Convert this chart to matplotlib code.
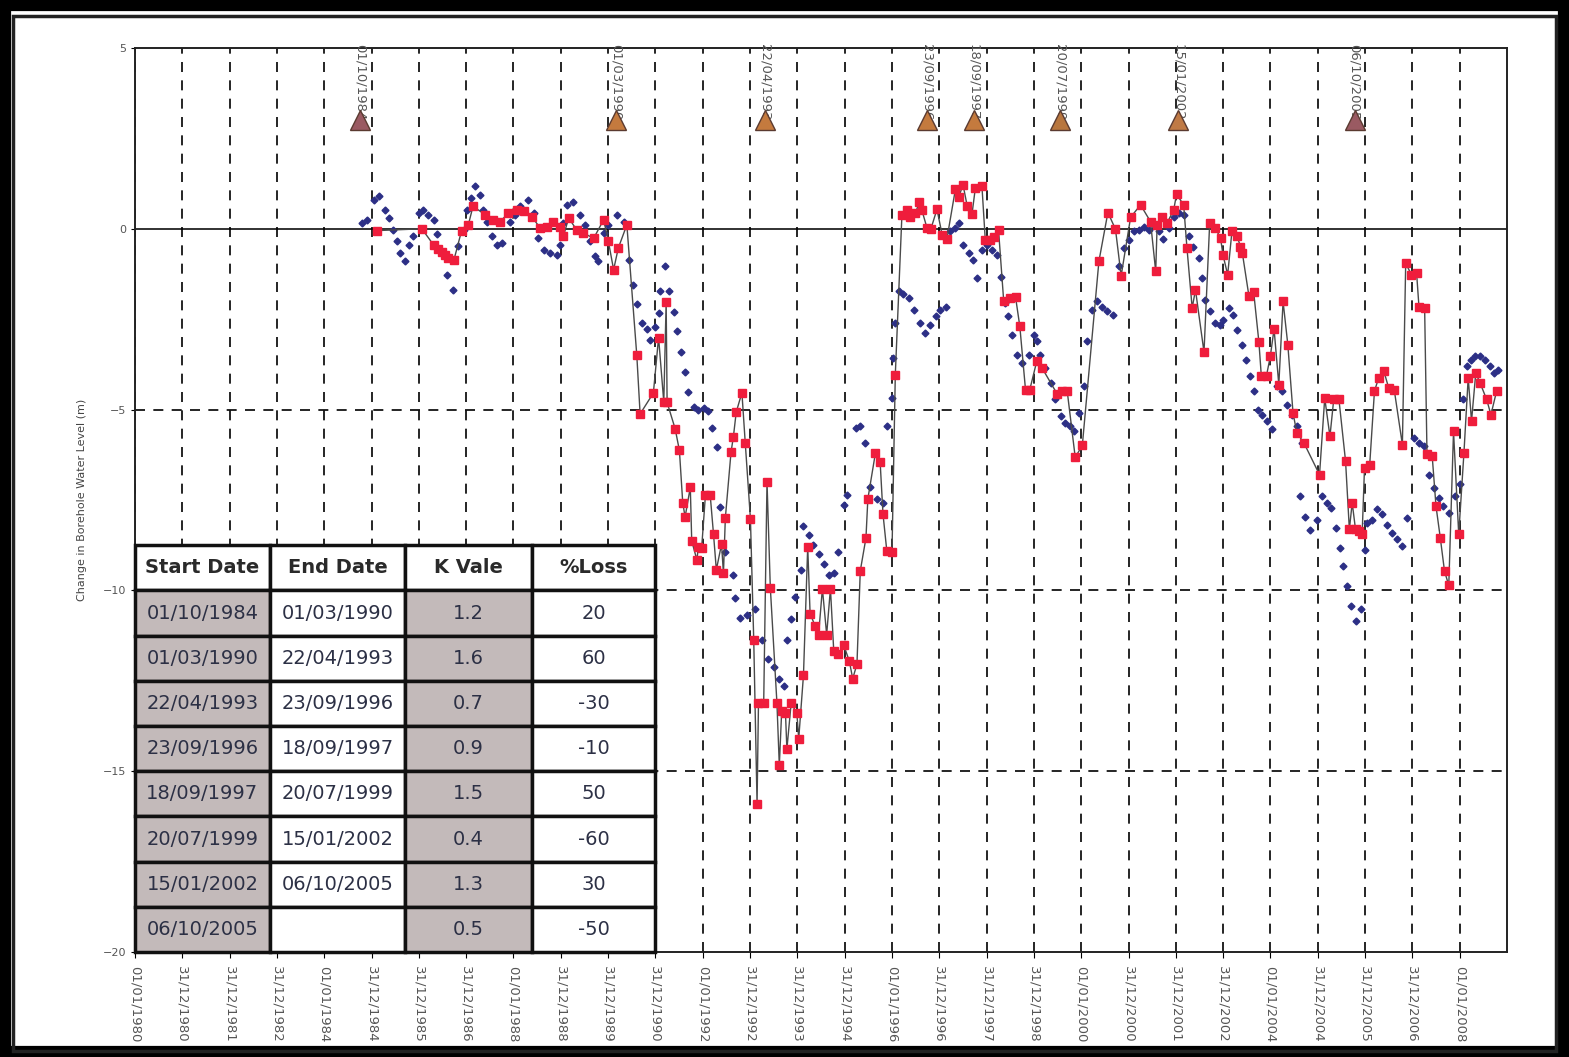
import numpy as np
import matplotlib
matplotlib.use('Agg')
import matplotlib.pyplot as plt
from matplotlib.patches import Rectangle
from datetime import date

# x tick labels (Excel date axis, one tick every 365 days from 01/01/1980)
tick_labels = ['01/01/1980', '31/12/1980', '31/12/1981', '31/12/1982', '01/01/1984',
               '31/12/1984', '31/12/1985', '31/12/1986', '01/01/1988', '31/12/1988',
               '31/12/1989', '31/12/1990', '01/01/1992', '31/12/1992', '31/12/1993',
               '31/12/1994', '01/01/1996', '31/12/1996', '31/12/1997', '31/12/1998',
               '01/01/2000', '31/12/2000', '31/12/2001', '31/12/2002', '01/01/2004',
               '31/12/2004', '31/12/2005', '31/12/2006', '01/01/2008']

# table contents
start_dates = ['01/10/1984', '01/03/1990', '22/04/1993', '23/09/1996',
               '18/09/1997', '20/07/1999', '15/01/2002', '06/10/2005']
end_dates = ['01/03/1990', '22/04/1993', '23/09/1996', '18/09/1997',
             '20/07/1999', '15/01/2002', '06/10/2005', '']
k_values = ['1.2', '1.6', '0.7', '0.9', '1.5', '0.4', '1.3', '0.5']
pct_loss = ['20', '60', '-30', '-10', '50', '-60', '30', '-50']
marker_colors = ['#9a5a62', '#c47a3e', '#c47a3e', '#c47a3e',
                 '#c47a3e', '#b8763e', '#c07a45', '#9a5a62']

# observed water level change (red squares, connected)
obs_year = [1985.11, 1986.06, 1986.31, 1986.40, 1986.48, 1986.55, 1986.62, 1986.74,
            1986.90, 1987.04, 1987.14, 1987.40, 1987.57, 1987.71, 1987.89, 1988.07,
            1988.21, 1988.38, 1988.56, 1988.70, 1988.84, 1988.98, 1989.05, 1989.16,
            1989.33, 1989.47, 1989.69, 1989.90, 1990.00, 1990.11, 1990.21, 1990.39,
            1990.60, 1990.67, 1990.95, 1991.06, 1991.17, 1991.22, 1991.24, 1991.41,
            1991.50, 1991.57, 1991.62, 1991.73, 1991.76, 1991.87, 1991.90, 1991.97,
            1992.05, 1992.15, 1992.22, 1992.28, 1992.39, 1992.43, 1992.47, 1992.59,
            1992.64, 1992.70, 1992.82, 1992.89, 1993.00, 1993.07, 1993.14, 1993.17,
            1993.28, 1993.35, 1993.42, 1993.56, 1993.61, 1993.66, 1993.74, 1993.77,
            1993.86, 1993.98, 1994.02, 1994.12, 1994.21, 1994.26, 1994.37, 1994.44,
            1994.52, 1994.61, 1994.69, 1994.76, 1994.86, 1994.97, 1995.09, 1995.16,
            1995.25, 1995.32, 1995.44, 1995.48, 1995.64, 1995.74, 1995.80, 1995.88,
            1995.99, 1996.06, 1996.20, 1996.31, 1996.38, 1996.48, 1996.57, 1996.62,
            1996.73, 1996.81, 1996.94, 1997.05, 1997.15, 1997.33, 1997.40, 1997.49,
            1997.58, 1997.68, 1997.75, 1997.89, 1997.96, 1998.07, 1998.15, 1998.24,
            1998.35, 1998.49, 1998.60, 1998.69, 1998.81, 1998.90, 1999.05, 1999.16,
            1999.48, 1999.58, 1999.69, 1999.86, 2000.01, 2000.36, 2000.55, 2000.71,
            2000.83, 2001.03, 2001.24, 2001.45, 2001.56, 2001.59, 2001.70, 2001.80,
            2001.94, 2002.00, 2002.15, 2002.22, 2002.33, 2002.40, 2002.58, 2002.70,
            2002.82, 2002.93, 2002.98, 2003.08, 2003.17, 2003.28, 2003.35, 2003.39,
            2003.53, 2003.63, 2003.74, 2003.79, 2003.90, 2003.98, 2004.06, 2004.16,
            2004.25, 2004.35, 2004.46, 2004.54, 2004.69, 2005.02, 2005.13, 2005.24,
            2005.32, 2005.43, 2005.57, 2005.65, 2005.71, 2005.78, 2005.85, 2005.92,
            2005.97, 2006.08, 2006.18, 2006.27, 2006.38, 2006.48, 2006.60, 2006.77,
            2006.84, 2006.96, 2007.07, 2007.12, 2007.24, 2007.29, 2007.40, 2007.48,
            2007.57, 2007.66, 2007.75, 2007.85, 2007.96, 2008.07, 2008.16, 2008.23,
            2008.32, 2008.41, 2008.55, 2008.64, 2008.76]
obs_level = [-0.05, 0.00, -0.45, -0.55, -0.65, -0.72, -0.80, -0.85,
             -0.05, 0.10, 0.62, 0.39, 0.25, 0.20, 0.43, 0.52,
             0.48, 0.34, 0.02, 0.06, 0.20, 0.06, -0.21, 0.30,
             -0.03, -0.12, -0.26, 0.25, -0.35, -1.13, -0.53, 0.11,
             -3.50, -5.12, -4.54, -3.01, -4.79, -2.02, -4.80, -5.53,
             -6.13, -7.57, -7.97, -7.15, -8.63, -9.16, -8.79, -8.82,
             -7.36, -7.36, -8.44, -9.43, -8.72, -9.53, -8.00, -6.18,
             -5.75, -5.07, -4.53, -5.91, -8.02, -11.38, -15.90, -13.12,
             -13.12, -6.99, -9.92, -13.12, -14.84, -13.34, -13.39, -14.39,
             -13.12, -13.39, -14.10, -12.35, -8.79, -10.64, -10.99, -11.22,
             -9.95, -11.22, -9.95, -11.68, -11.75, -11.51, -11.96, -12.44,
             -12.04, -9.46, -8.55, -7.47, -6.20, -6.46, -7.89, -8.90,
             -8.95, -4.03, 0.39, 0.52, 0.34, 0.43, 0.73, 0.52,
             0.02, -0.01, 0.54, -0.17, -0.28, 1.10, 0.88, 1.22,
             0.62, 0.41, 1.12, 1.17, -0.30, -0.30, -0.23, -0.03,
             -2.01, -1.92, -1.89, -2.70, -4.45, -4.45, -3.65, -3.85,
             -4.57, -4.49, -4.48, -6.32, -5.99, -0.90, 0.45, -0.01,
             -1.30, 0.32, 0.66, 0.20, -1.18, 0.11, 0.34, 0.16,
             0.52, 0.96, 0.66, -0.53, -2.19, -1.69, -3.41, 0.16,
             0.02, -0.26, -0.72, -1.27, -0.07, -0.21, -0.49, -0.67,
             -1.87, -1.76, -3.14, -4.06, -4.06, -3.53, -2.77, -4.31,
             -2.01, -3.20, -5.09, -5.64, -5.92, -6.80, -4.68, -5.74,
             -4.72, -4.72, -6.43, -8.31, -7.58, -8.31, -8.36, -8.45,
             -6.61, -6.52, -4.49, -4.12, -3.94, -4.40, -4.47, -5.97,
             -0.95, -1.27, -1.22, -2.15, -2.19, -6.24, -6.29, -7.67,
             -8.54, -9.47, -9.86, -5.60, -8.45, -6.20, -4.12, -5.32,
             -3.99, -4.26, -4.72, -5.14, -4.49]

# modelled water level change (blue diamonds)
sim_year = [1984.79, 1984.90, 1985.04, 1985.16, 1985.28, 1985.37, 1985.46, 1985.53,
            1985.60, 1985.71, 1985.79, 1985.88, 1985.99, 1986.09, 1986.20, 1986.31,
            1986.37, 1986.51, 1986.60, 1986.71, 1986.83, 1986.94, 1987.01, 1987.09,
            1987.18, 1987.29, 1987.36, 1987.43, 1987.54, 1987.64, 1987.75, 1987.92,
            1988.03, 1988.14, 1988.31, 1988.42, 1988.52, 1988.63, 1988.77, 1988.91,
            1988.98, 1989.05, 1989.13, 1989.26, 1989.40, 1989.51, 1989.62, 1989.72,
            1989.79, 1989.90, 1990.00, 1990.18, 1990.32, 1990.43, 1990.53, 1990.60,
            1990.71, 1990.81, 1990.88, 1990.99, 1991.06, 1991.09, 1991.20, 1991.27,
            1991.38, 1991.45, 1991.53, 1991.62, 1991.69, 1991.80, 1991.90, 1992.01,
            1992.10, 1992.18, 1992.29, 1992.36, 1992.47, 1992.63, 1992.68, 1992.78,
            1992.92, 1993.10, 1993.24, 1993.38, 1993.49, 1993.60, 1993.70, 1993.77,
            1993.86, 1993.95, 1994.06, 1994.12, 1994.23, 1994.33, 1994.44, 1994.55,
            1994.65, 1994.76, 1994.86, 1994.97, 1995.04, 1995.22, 1995.32, 1995.43,
            1995.53, 1995.67, 1995.81, 1995.88, 1995.99, 1996.02, 1996.06, 1996.13,
            1996.23, 1996.34, 1996.45, 1996.59, 1996.69, 1996.80, 1996.91, 1997.01,
            1997.14, 1997.22, 1997.33, 1997.40, 1997.50, 1997.61, 1997.71, 1997.78,
            1997.89, 1997.99, 1998.10, 1998.21, 1998.29, 1998.38, 1998.45, 1998.52,
            1998.62, 1998.74, 1998.88, 1998.98, 1999.05, 1999.12, 1999.23, 1999.34,
            1999.44, 1999.55, 1999.65, 1999.76, 1999.84, 1999.93, 2000.04, 2000.11,
            2000.22, 2000.32, 2000.43, 2000.53, 2000.66, 2000.78, 2000.89, 2000.99,
            2001.10, 2001.20, 2001.31, 2001.41, 2001.52, 2001.63, 2001.72, 2001.84,
            2001.94, 2002.05, 2002.15, 2002.26, 2002.34, 2002.47, 2002.54, 2002.61,
            2002.71, 2002.82, 2002.92, 2002.99, 2003.10, 2003.20, 2003.27, 2003.39,
            2003.46, 2003.55, 2003.63, 2003.72, 2003.81, 2003.91, 2004.02, 2004.12,
            2004.22, 2004.33, 2004.43, 2004.55, 2004.60, 2004.65, 2004.72, 2004.82,
            2004.97, 2005.08, 2005.17, 2005.27, 2005.36, 2005.45, 2005.52, 2005.61,
            2005.68, 2005.78, 2005.89, 2005.99, 2006.03, 2006.13, 2006.24, 2006.34,
            2006.45, 2006.56, 2006.66, 2006.77, 2006.87, 2007.01, 2007.12, 2007.22,
            2007.33, 2007.43, 2007.54, 2007.63, 2007.75, 2007.89, 2007.99, 2008.05,
            2008.14, 2008.21, 2008.31, 2008.41, 2008.52, 2008.62, 2008.71, 2008.80]
sim_level = [0.16, 0.23, 0.80, 0.91, 0.52, 0.30, -0.03, -0.35,
             -0.67, -0.90, -0.44, -0.21, 0.43, 0.52, 0.39, 0.25,
             -0.14, -0.67, -1.27, -1.69, -0.47, -0.03, 0.52, 0.85,
             1.19, 0.94, 0.52, 0.20, -0.21, -0.44, -0.40, 0.20,
             0.39, 0.62, 0.80, 0.43, -0.26, -0.58, -0.67, -0.72,
             -0.44, 0.16, 0.66, 0.73, 0.39, 0.11, -0.35, -0.76,
             -0.90, -0.12, 0.11, 0.39, 0.20, -0.86, -1.55, -2.08,
             -2.60, -2.76, -3.08, -2.71, -2.34, -1.71, -1.02, -1.71,
             -2.29, -2.84, -3.40, -3.95, -4.51, -4.93, -5.02, -4.96,
             -5.04, -5.51, -6.04, -7.68, -8.95, -9.56, -10.22, -10.75,
             -10.69, -10.51, -11.38, -11.91, -12.12, -12.44, -12.65, -11.38,
             -10.80, -10.17, -9.43, -8.21, -8.47, -8.74, -9.00, -9.27,
             -9.58, -9.53, -8.95, -7.63, -7.36, -5.51, -5.45, -5.93,
             -7.15, -7.47, -7.57, -5.45, -4.67, -3.56, -2.60, -1.73,
             -1.79, -1.91, -2.24, -2.61, -2.88, -2.65, -2.42, -2.24,
             -2.15, -0.07, 0.02, 0.16, -0.44, -0.67, -0.86, -1.36,
             -0.58, -0.44, -0.58, -0.72, -1.32, -2.05, -2.42, -2.93,
             -3.48, -3.71, -3.48, -2.93, -3.11, -3.48, -3.85, -4.26,
             -4.72, -5.19, -5.37, -5.46, -5.60, -5.09, -4.36, -3.11,
             -2.24, -2.01, -2.15, -2.28, -2.38, -1.04, -0.53, -0.30,
             -0.07, -0.03, 0.06, -0.03, 0.11, -0.07, -0.28, 0.02,
             0.34, 0.43, 0.39, -0.21, -0.49, -0.81, -1.36, -1.96,
             -2.28, -2.60, -2.65, -2.51, -2.19, -2.38, -2.79, -3.20,
             -3.62, -4.08, -4.49, -5.00, -5.14, -5.32, -5.55, -4.36,
             -4.49, -4.86, -5.14, -5.46, -7.39, -5.92, -7.96, -8.33,
             -8.04, -7.39, -7.58, -7.72, -8.27, -8.82, -9.33, -9.88,
             -10.43, -10.85, -10.52, -8.87, -8.13, -8.04, -7.76, -7.90,
             -8.18, -8.41, -8.59, -8.78, -7.99, -5.78, -5.92, -6.01,
             -6.80, -7.16, -7.44, -7.67, -7.85, -7.39, -7.07, -4.72,
             -3.80, -3.62, -3.51, -3.53, -3.62, -3.80, -3.99, -3.90]


def to_year(s):
    d, m, y = [int(v) for v in s.split('/')]
    day0 = date(y, 1, 1)
    return y + (date(y, m, d) - day0).days / 365.25


tick_pos = [1980 + i * 365 / 365.25 for i in range(len(tick_labels))]
x_end = 1980 + len(tick_labels) * 365 / 365.25

fig = plt.figure(figsize=(15.69, 10.57), dpi=100)
ax = fig.add_axes([0.086, 0.0993, 0.8745, 0.8553])

# grid lines
ax.set_xticks(tick_pos)
ax.set_xticklabels(tick_labels, rotation=270, fontsize=9.5, color='#555555')
ax.grid(axis='x', color='k', linestyle=(0, (6, 5)), linewidth=1.2, zorder=1)
for yv in [-5, -10, -15]:
    ax.axhline(yv, color='k', linestyle=(0, (6, 5)), linewidth=1.2, zorder=1)
ax.axhline(0, color='#222222', linewidth=1.3, zorder=1)

# data
ax.plot(sim_year, sim_level, linestyle='none', marker='D', markersize=3.5,
        color='#2c2f86', zorder=3)
ax.plot(obs_year, obs_level, color='#4a4a4a', linewidth=1.0, marker='s',
        markersize=6, markerfacecolor='#ef1d3c', markeredgecolor='#ef1d3c', zorder=4)

# recharge period markers
for sd, c in zip(start_dates, marker_colors):
    xm = to_year(sd)
    ax.plot(xm, 3.0, marker='^', markersize=15, color=c, markeredgecolor='#5a3a30',
            linestyle='none', zorder=7)
    ax.text(xm, 3.0, sd, rotation=270, ha='center', va='bottom', fontsize=9.5,
            color='#555555', zorder=6, clip_on=False)

ax.set_xlim(1980, x_end)
ax.set_ylim(-20, 5)
ax.set_yticks([5, 0, -5, -10, -15, -20])
ax.tick_params(axis='y', labelsize=8, labelcolor='#555555', length=3)
ax.tick_params(axis='x', length=4, pad=6)
ax.set_ylabel('Change in Borehole Water Level (m)', fontsize=8, color='#444444', labelpad=11)
for sp in ax.spines.values():
    sp.set_linewidth(1.4)
    sp.set_color('#222222')

# summary table in the lower left corner
cell_text = [[a, b, k, p] for a, b, k, p in zip(start_dates, end_dates, k_values, pct_loss)]
shade = '#c3baba'
cell_colours = [[shade, 'white', shade, 'white'] for _ in cell_text]
tbl = ax.table(cellText=cell_text, colLabels=['Start Date', 'End Date', 'K Vale', '%Loss'],
               cellColours=cell_colours, cellLoc='center',
               bbox=[0, 0, 0.379, 0.450], zorder=8)
tbl.auto_set_font_size(False)
widths = [135, 135, 127, 123]
for (r, c), cell in tbl.get_celld().items():
    cell.set_width(widths[c] / 1372)
    cell.set_linewidth(2.5)
    cell.set_edgecolor('#111111')
    cell.get_text().set_fontsize(14)
    if r == 0:
        cell.get_text().set_fontweight('bold')
        cell.get_text().set_color('#2a2a2a')
    else:
        cell.get_text().set_color('#2c3045')

# picture frame
fig.patches.append(Rectangle((0, 0), 1, 1, transform=fig.transFigure, fill=False,
                             edgecolor='black', linewidth=16, zorder=0))
fig.patches.append(Rectangle((0.008, 0.006), 0.984, 0.979, transform=fig.transFigure,
                             fill=False, edgecolor='#222222', linewidth=2.5, zorder=0))

fig.savefig('out.png', dpi=100)
